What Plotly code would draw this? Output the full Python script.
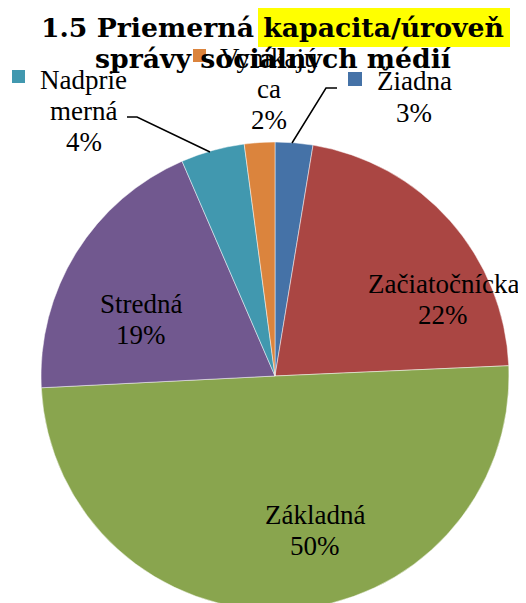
import plotly.graph_objects as go

W, H = 526, 603
OFF = 8  # page body margin offset of the graph div

categories = ["Žiadna", "Začiatočnícka", "Základná", "Stredná", "Nadpriemerná", "Vynikajúca"]
values = [2.6, 21.7, 49.9, 19.3, 4.4, 2.1]
colors = ["#4572A7", "#AA4643", "#89A54E", "#71588F", "#4198AF", "#DB843D"]
# label text as broken in the chart
label_lines = [["Žiadna"], ["Začiatočnícka"], ["Základná"], ["Stredná"], ["Nadprie", "merná"], ["Vynikajú", "ca"]]

total = sum(values)
pcts = [round(v / total * 100) for v in values]


def px(x):
    return (x - OFF) / W


def py(y):
    return 1 - (y - OFF) / H


FONT = "Liberation Serif"
LBL_SIZE = 27
LINE_GAP = 31

fig = go.Figure(go.Pie(
    labels=categories,
    values=values,
    sort=False,
    direction="clockwise",
    rotation=0,
    marker=dict(colors=colors, line=dict(color="rgba(255,255,255,0.6)", width=0.8)),
    textinfo="none",
    hoverinfo="label+percent",
    showlegend=False,
    domain=dict(x=[px(41), px(509)], y=[py(610), py(142)]),
))

# label placement (pixel centres of the whole block) and legend-key squares
label_pos = {
    "Žiadna": (414, 97),
    "Začiatočnícka": (443, 299),
    "Základná": (315, 530),
    "Stredná": (141, 319),
    "Nadpriemerná": (84, 111),
    "Vynikajúca": (269, 89),
}
keys = {
    "Žiadna": (348, 72, 362, 86),
    "Nadpriemerná": (12, 70, 25, 83),
    "Vynikajúca": (193, 49, 206, 62),
}

annotations = []
shapes = []
for cat, lines, p, col in zip(categories, label_lines, pcts, colors):
    x, y = label_pos[cat]
    all_lines = lines + [f"{p}%"]
    n = len(all_lines)
    for i, t in enumerate(all_lines):
        ly = y + (i - (n - 1) / 2) * LINE_GAP
        annotations.append(dict(
            x=px(x), y=py(ly), xref="paper", yref="paper",
            text=t, showarrow=False,
            xanchor="center", yanchor="middle", align="center",
            font=dict(family=FONT, size=LBL_SIZE, color="#000000"),
        ))
    if cat in keys:
        x0, y0, x1, y1 = keys[cat]
        shapes.append(dict(type="rect", xref="paper", yref="paper",
                           x0=px(x0), x1=px(x1), y0=py(y1), y1=py(y0),
                           fillcolor=col, line=dict(width=0), layer="above"))

# leader lines
for pts in [[(127, 117), (137, 117), (210, 152)], [(337, 88), (326, 88), (292, 143)]]:
    path = "M " + " L ".join(f"{px(a)},{py(b)}" for a, b in pts)
    shapes.append(dict(type="path", xref="paper", yref="paper", path=path,
                       line=dict(color="#000000", width=1.5)))

# title highlight
shapes.append(dict(type="rect", xref="paper", yref="paper",
                   x0=px(258), x1=px(510), y0=py(47), y1=py(7),
                   fillcolor="#FFFF00", line=dict(width=0), layer="above"))

title_font = dict(family="DejaVu Serif", size=26.7, color="#000000")
annotations.append(dict(x=px(272), y=py(28), xref="paper", yref="paper",
                        text="<b>1.5 Priemerná kapacita/úroveň</b>", showarrow=False,
                        xanchor="center", yanchor="middle", font=title_font))
annotations.append(dict(x=px(273), y=py(59), xref="paper", yref="paper",
                        text="<b>správy sociálnych médií</b>", showarrow=False,
                        xanchor="center", yanchor="middle", font=title_font))

fig.update_layout(
    width=W, height=H,
    margin=dict(l=0, r=0, t=0, b=0),
    paper_bgcolor="#FFFFFF",
    plot_bgcolor="#FFFFFF",
    annotations=annotations,
    shapes=shapes,
)

fig.write_html("out.html")
